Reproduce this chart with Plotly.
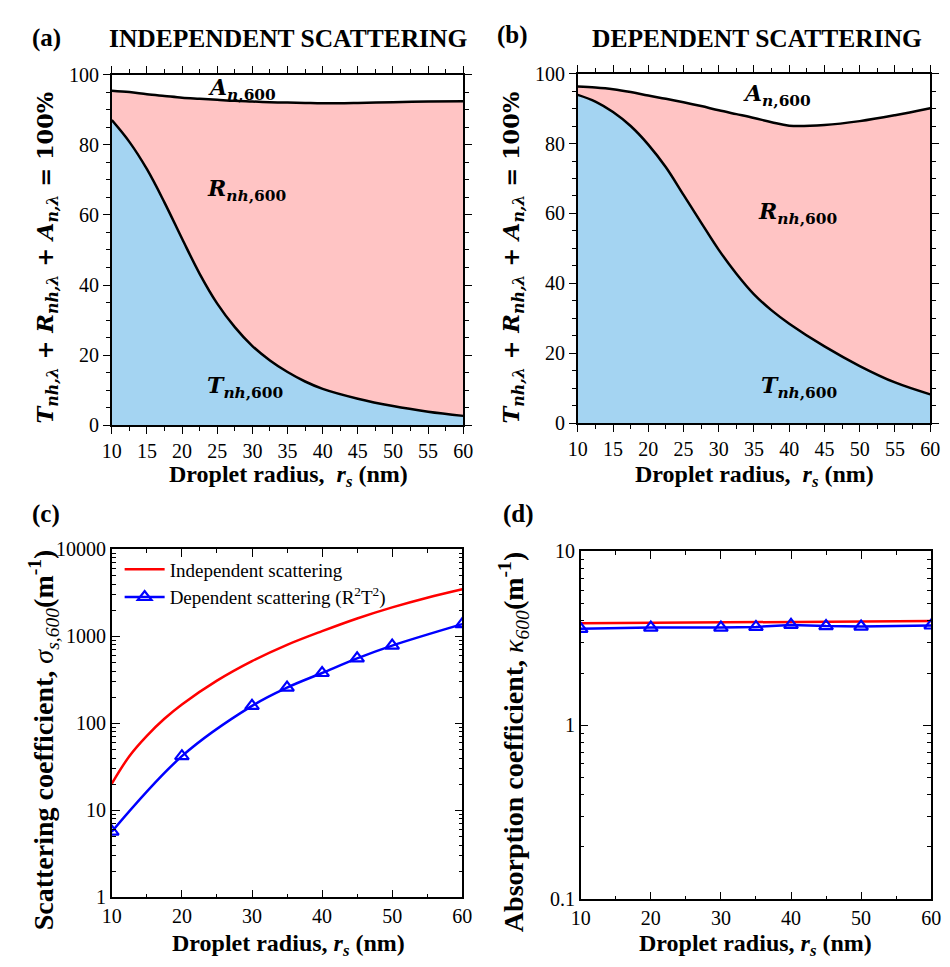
import plotly.graph_objects as go

# ---------------- data ----------------
r_ab = [10, 12.5, 15, 17.5, 20, 22.5, 25, 27.5, 30, 32.5, 35, 37.5, 40, 45, 50, 55, 60]
# panel (a) independent scattering
T_a = [87, 80.8, 73, 63.5, 53.2, 43.2, 34.7, 28, 22.6, 18.5, 15.2, 12.5, 10.4, 7.6, 5.5, 3.9, 2.7]
TR_a = [95.4, 95, 94.4, 93.9, 93.4, 93.1, 92.8, 92.5, 92.3, 92.1, 92, 91.9, 91.8, 91.9, 92.1, 92.3, 92.4]
# panel (b) dependent scattering
T_b = [93.9, 92, 89, 85, 79.7, 73.2, 65.3, 57.4, 49.6, 42.8, 36.9, 32.3, 28.5, 22, 16.4, 11.7, 8.3]
TR_b = [96.3, 96, 95.5, 94.7, 93.7, 92.8, 91.8, 90.7, 89.5, 88.4, 87.3, 86.1, 85.1, 85.3, 86.4, 88.1, 90.1]

# panel (c) scattering coefficient
r_c_ind = [10, 12.5, 15, 17.5, 20, 25, 30, 35, 40, 45, 50, 55, 60]
sig_ind = [20.3, 42, 72, 113, 165, 310, 520, 800, 1150, 1610, 2160, 2790, 3490]
r_dep = [10, 20, 30, 35, 40, 45, 50, 60]
sig_dep = [5.7, 42, 159, 258, 380, 560, 785, 1385]

# panel (d) absorption coefficient
r_d_ind = [10, 20, 30, 40, 50, 60]
kap_ind = [3.86, 3.88, 3.89, 3.92, 3.95, 3.98]
kap_dep = [3.59, 3.65, 3.65, 3.68, 3.78, 3.72, 3.70, 3.75]

BLUE_FILL = "rgb(164,212,242)"
PINK_FILL = "rgb(255,196,196)"
SERIF = "Liberation Serif"
MATH = "DejaVu Serif"

fig = go.Figure()

# (a)
fig.add_trace(go.Scatter(x=r_ab, y=TR_a, mode="lines", line=dict(color="black", width=2.5, shape="spline"),
                         fill="tozeroy", fillcolor=PINK_FILL, showlegend=False, xaxis="x", yaxis="y"))
fig.add_trace(go.Scatter(x=r_ab, y=T_a, mode="lines", line=dict(color="black", width=2.5, shape="spline"),
                         fill="tozeroy", fillcolor=BLUE_FILL, showlegend=False, xaxis="x", yaxis="y"))
# (b)
fig.add_trace(go.Scatter(x=r_ab, y=TR_b, mode="lines", line=dict(color="black", width=2.5, shape="spline"),
                         fill="tozeroy", fillcolor=PINK_FILL, showlegend=False, xaxis="x2", yaxis="y2"))
fig.add_trace(go.Scatter(x=r_ab, y=T_b, mode="lines", line=dict(color="black", width=2.5, shape="spline"),
                         fill="tozeroy", fillcolor=BLUE_FILL, showlegend=False, xaxis="x2", yaxis="y2"))
# (c)
fig.add_trace(go.Scatter(x=r_c_ind, y=sig_ind, mode="lines", name="Independent scattering",
                         line=dict(color="red", width=2.5, shape="spline"), xaxis="x3", yaxis="y3"))
fig.add_trace(go.Scatter(x=r_dep, y=sig_dep, mode="lines+markers", name="Dependent scattering (R<sup>2</sup>T<sup>2</sup>)",
                         line=dict(color="blue", width=2.5, shape="spline"),
                         marker=dict(symbol="triangle-up-open", size=12, color="blue", line=dict(width=2.2, color="blue")),
                         xaxis="x3", yaxis="y3"))
# (d)
fig.add_trace(go.Scatter(x=r_d_ind, y=kap_ind, mode="lines", showlegend=False,
                         line=dict(color="red", width=2.5), xaxis="x4", yaxis="y4"))
fig.add_trace(go.Scatter(x=r_dep, y=kap_dep, mode="lines+markers", showlegend=False,
                         line=dict(color="blue", width=2.5),
                         marker=dict(symbol="triangle-up-open", size=12, color="blue", line=dict(width=2.2, color="blue")),
                         xaxis="x4", yaxis="y4"))

W, H = 950, 967
def px_x(a, b):
    return [a / W, b / W]
def px_y(top, bottom):
    return [1 - bottom / H, 1 - top / H]

tickfont = dict(family=SERIF, size=20, color="black")
common = dict(showline=True, linecolor="black", linewidth=1.5, mirror="allticks", showgrid=False,
              zeroline=False, tickfont=tickfont, tickcolor="black")

def lin_x(dom, anchor):
    return dict(domain=dom, anchor=anchor, range=[10, 60], tickvals=list(range(10, 61, 5)),
                ticks="outside", ticklen=7, tickwidth=1.2,
                minor=dict(dtick=2.5, tick0=10, ticks="outside", ticklen=4, tickcolor="black", tickwidth=1),
                **common)

def lin_y(dom, anchor):
    return dict(domain=dom, anchor=anchor, range=[0, 100], tickvals=list(range(0, 101, 20)),
                ticks="outside", ticklen=7, tickwidth=1.2,
                minor=dict(dtick=5, tick0=0, ticks="outside", ticklen=4, tickcolor="black", tickwidth=1),
                **common)

def c_x(dom, anchor):
    return dict(domain=dom, anchor=anchor, range=[10, 60], tickvals=list(range(10, 61, 10)),
                ticks="inside", ticklen=8, tickwidth=1.2,
                minor=dict(dtick=5, tick0=10, ticks="inside", ticklen=4, tickcolor="black", tickwidth=1),
                **common)

def log_y(dom, anchor, rng, vals):
    return dict(domain=dom, anchor=anchor, type="log", range=rng, tickvals=vals,
                ticktext=[str(v) for v in vals],
                ticks="inside", ticklen=8, tickwidth=1.2,
                minor=dict(dtick="D1", ticks="inside", ticklen=4, tickcolor="black", tickwidth=1),
                **common)

fig.update_layout(
    width=W, height=H, margin=dict(l=0, r=0, t=0, b=0),
    paper_bgcolor="white", plot_bgcolor="white",
    font=dict(family=SERIF, color="black"),
    xaxis=lin_x(px_x(104, 463), "y"),
    yaxis=lin_y(px_y(65, 424), "x"),
    xaxis2=lin_x(px_x(580, 940), "y2"),
    yaxis2=lin_y(px_y(64, 422), "x2"),
    xaxis3=c_x(px_x(104, 462), "y3"),
    yaxis3=log_y(px_y(551, 907), "x3", [0, 4], [1, 10, 100, 1000, 10000]),
    xaxis4=c_x(px_x(583, 941), "y4"),
    yaxis4=log_y(px_y(553, 909), "x4", [-1, 1], [0.1, 1, 10]),
    legend=dict(x=112 / W, y=1 - 552 / H, xanchor="left", yanchor="top", bgcolor="rgba(0,0,0,0)",
                font=dict(family=SERIF, size=19, color="black"), tracegroupgap=0, itemwidth=40),
)

ann = []
def paper(text, x, y, size, angle=0, xanchor="center", yanchor="middle", family=SERIF):
    ann.append(dict(text=text, x=x / W, y=1 - y / H, xref="paper", yref="paper", showarrow=False,
                    xanchor=xanchor, yanchor=yanchor, textangle=angle,
                    font=dict(family=family, size=size, color="black")))

paper("<b>(a)</b>", 37, 28, 25)
paper("<b>INDEPENDENT SCATTERING</b>", 284, 28, 25.5)
paper("<b>(b)</b>", 513, 25, 25)
paper("<b>DEPENDENT SCATTERING</b>", 763, 28, 25.5)
paper("<b>(c)</b>", 37, 515, 25)
paper("<b>(d)</b>", 519, 515, 25)

xt = "<b>Droplet radius,  <i>r</i><sub><i>s</i></sub> (nm)</b>"
paper(xt, 284, 476, 24)
paper(xt, 760, 476, 24)
paper("<b>Droplet radius, <i>r</i><sub><i>s</i></sub> (nm)</b>", 284, 956, 24)
paper("<b>Droplet radius, <i>r</i><sub><i>s</i></sub> (nm)</b>", 762, 956, 24)

yt = "<b><i>T</i><sub><i>nh,λ</i></sub> + <i>R</i><sub><i>nh,λ</i></sub> + <i>A</i><sub><i>n,λ</i></sub> = 100%</b>"
paper(yt, 38, 252, 22.5, angle=-90, family=MATH)
paper(yt, 514, 252, 22.5, angle=-90, family=MATH)
paper("<b>Scattering coefficient, </b><i>σ</i><sub><i>s,600</i></sub><b>(m<sup>-1</sup>)</b>", 34, 746, 28, angle=-90)
paper("<b>Absorption coefficient, </b><i>κ</i><sub><i>600</i></sub><b>(m<sup>-1</sup>)</b>", 515, 748, 28, angle=-90)

fig.update_layout(annotations=ann)

def data_lbl(text, x, y, xr, yr):
    fig.add_annotation(text=text, x=x, y=y, xref=xr, yref=yr, showarrow=False,
                       font=dict(family=MATH, size=22, color="black"))

data_lbl("<b><i>A</i><sub><i>n</i>,600</sub></b>", 28.5, 96, "x", "y")
data_lbl("<b><i>R</i><sub><i>nh</i>,600</sub></b>", 29.2, 67, "x", "y")
data_lbl("<b><i>T</i><sub><i>nh</i>,600</sub></b>", 29, 11, "x", "y")
data_lbl("<b><i>A</i><sub><i>n</i>,600</sub></b>", 38.2, 94, "x2", "y2")
data_lbl("<b><i>R</i><sub><i>nh</i>,600</sub></b>", 41.2, 60, "x2", "y2")
data_lbl("<b><i>T</i><sub><i>nh</i>,600</sub></b>", 41.4, 10.3, "x2", "y2")

fig.write_html("out.html")
